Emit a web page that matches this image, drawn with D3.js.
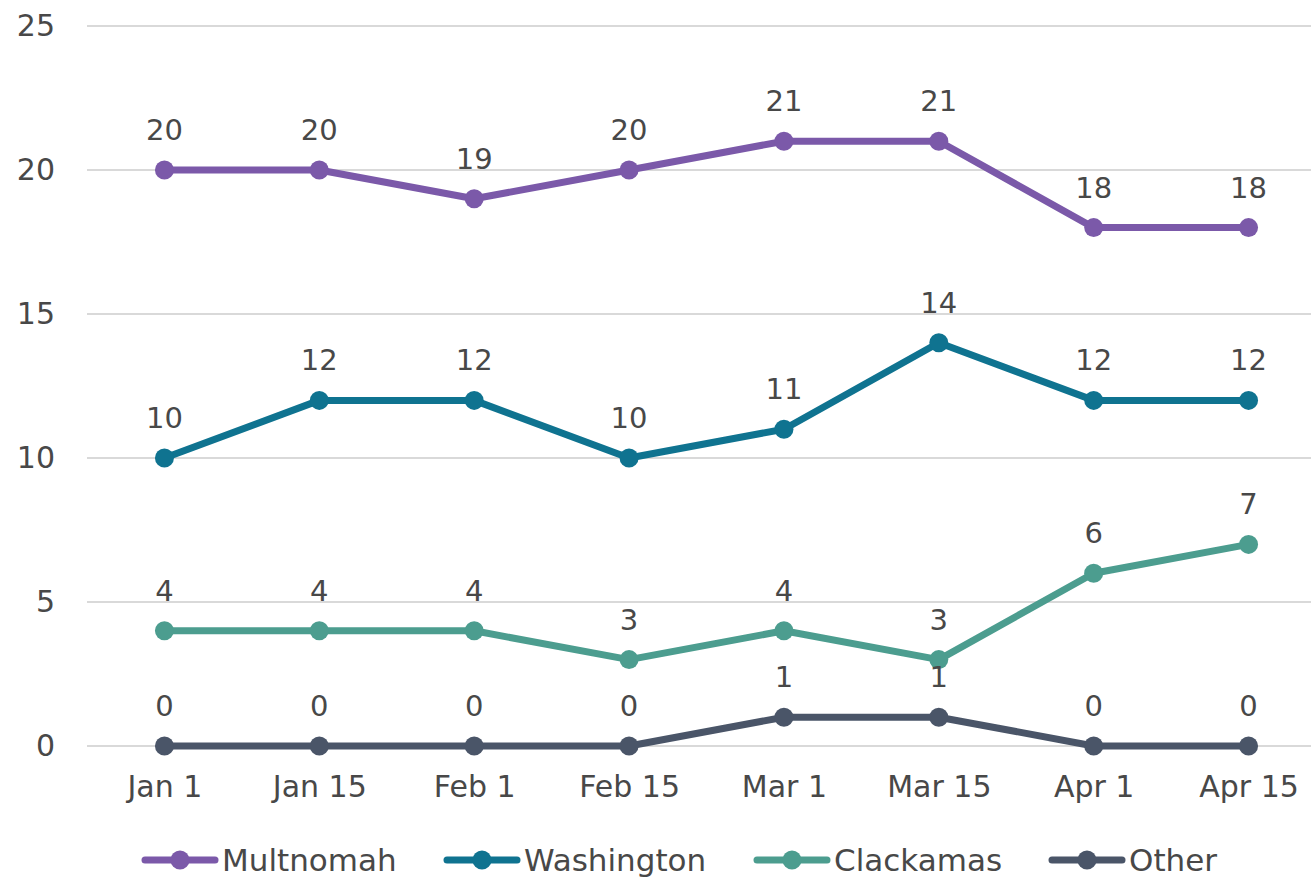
<!DOCTYPE html>
<html>
<head>
<meta charset="utf-8">
<script src="https://cdn.jsdelivr.net/npm/d3@7"></script>
<style>
  html, body { margin: 0; padding: 0; background: #ffffff; }
  svg { display: block; font-family: "DejaVu Sans", "Noto Sans", sans-serif; }
</style>
</head>
<body>
<svg id="chart" width="1311" height="879"></svg>
<script>
// Reporting periods
const categories = ["Jan 1", "Jan 15", "Feb 1", "Feb 15", "Mar 1", "Mar 15", "Apr 1", "Apr 15"];

// Counts per county
const multnomah  = [20, 20, 19, 20, 21, 21, 18, 18];
const washington = [10, 12, 12, 10, 11, 14, 12, 12];
const clackamas  = [4, 4, 4, 3, 4, 3, 6, 7];
const other      = [0, 0, 0, 0, 1, 1, 0, 0];

const seriesNames = ["Multnomah", "Washington", "Clackamas", "Other"];
const yTicks = [0, 5, 10, 15, 20, 25];

const colors = {
  Multnomah: "#7b59a9",
  Washington: "#0f7390",
  Clackamas: "#4c9d8f",
  Other: "#4a5568"
};

const series = [
  { name: "Multnomah", values: multnomah },
  { name: "Washington", values: washington },
  { name: "Clackamas", values: clackamas },
  { name: "Other", values: other }
];

const svg = d3.select("#chart");
const textColor = "#484848";
const fontFamily = "'DejaVu Sans', 'Noto Sans', sans-serif";

const x = d3.scalePoint().domain(categories).range([87, 1326]).padding(0.5);
const y = d3.scaleLinear().domain([0, 25]).range([746, 26]);

// Horizontal gridlines
svg.append("g")
  .selectAll("line")
  .data(yTicks)
  .join("line")
  .attr("x1", 87)
  .attr("x2", 1326)
  .attr("y1", d => y(d))
  .attr("y2", d => y(d))
  .attr("stroke", "#d9d9d9")
  .attr("stroke-width", 2);

// Y axis labels
const yAxis = d3.axisLeft(y).tickValues(yTicks).tickSize(0).tickPadding(0);
svg.append("g")
  .attr("transform", "translate(55,0)")
  .call(yAxis)
  .call(g => g.select(".domain").remove())
  .call(g => g.selectAll("text")
    .attr("fill", textColor)
    .attr("font-size", 30)
    .attr("font-family", fontFamily));

// X axis labels
const xAxis = d3.axisBottom(x).tickSize(0).tickPadding(0);
svg.append("g")
  .attr("transform", "translate(0,776)")
  .call(xAxis)
  .call(g => g.select(".domain").remove())
  .call(g => g.selectAll("text")
    .attr("fill", textColor)
    .attr("font-size", 30)
    .attr("font-family", fontFamily));

const line = d3.line()
  .x((d, i) => x(categories[i]))
  .y(d => y(d));

const groups = svg.append("g")
  .selectAll("g")
  .data(series)
  .join("g");

groups.append("path")
  .attr("d", d => line(d.values))
  .attr("fill", "none")
  .attr("stroke", d => colors[d.name])
  .attr("stroke-width", 7)
  .attr("stroke-linejoin", "round");

groups.selectAll("circle")
  .data(d => d.values.map((v, i) => ({ v, i, name: d.name })))
  .join("circle")
  .attr("cx", d => x(categories[d.i]))
  .attr("cy", d => y(d.v))
  .attr("r", 9.5)
  .attr("fill", d => colors[d.name]);

// Value labels above each point
groups.selectAll("text.value")
  .data(d => d.values.map((v, i) => ({ v, i })))
  .join("text")
  .attr("class", "value")
  .attr("x", d => x(categories[d.i]))
  .attr("y", d => y(d.v) - 30)
  .attr("text-anchor", "middle")
  .attr("fill", textColor)
  .attr("font-size", 29)
  .text(d => d.v);

// Legend
const legendX = [145, 447, 757, 1052];
const legend = svg.append("g")
  .selectAll("g")
  .data(seriesNames)
  .join("g")
  .attr("transform", (d, i) => `translate(${legendX[i]},860)`);

legend.append("line")
  .attr("x1", 0).attr("x2", 70)
  .attr("y1", 0).attr("y2", 0)
  .attr("stroke", d => colors[d])
  .attr("stroke-width", 7)
  .attr("stroke-linecap", "round");

legend.append("circle")
  .attr("cx", 35).attr("cy", 0).attr("r", 9.5)
  .attr("fill", d => colors[d]);

legend.append("text")
  .attr("x", 77)
  .attr("y", 0)
  .attr("dy", "0.36em")
  .attr("fill", textColor)
  .attr("font-size", 31)
  .text(d => d);
</script>
</body>
</html>
